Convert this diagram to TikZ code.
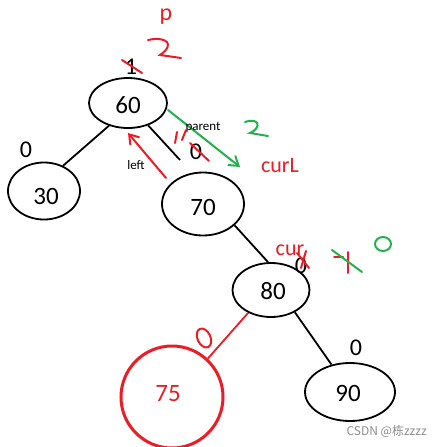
\documentclass[tikz,border=0pt]{standalone}
\usepackage{fontspec}
\setmainfont{Carlito}
\newfontfamily\cjk{Noto Sans CJK SC}
\usetikzlibrary{shapes.geometric,arrows.meta}
\definecolor{penred}{RGB}{236,28,36}
\definecolor{pengreen}{RGB}{34,177,76}
\begin{document}
\begin{tikzpicture}[x=1pt,y=-1pt,
  treenode/.style={draw,ellipse,line width=1.8pt,inner sep=0pt},
  edge/.style={line width=1.8pt},
  rededge/.style={line width=1.8pt,draw=penred},
  redink/.style={line width=2pt,draw=penred,line cap=round},
  greenink/.style={line width=2pt,draw=pengreen,line cap=round},
  num/.style={font=\fontsize{25}{25}\selectfont,inner sep=0pt},
  bf/.style={font=\fontsize{24}{24}\selectfont,inner sep=0pt},
  rednote/.style={font=\fontsize{22}{22}\selectfont,text=penred,inner sep=0pt},
  smalllab/.style={font=\fontsize{13}{13}\selectfont,inner sep=0pt}]
\useasboundingbox (0,0) rectangle (438,447);
\fill[white] (0,0) rectangle (438,447);
% nodes
\node[treenode,minimum width=78,minimum height=50] (n60) at (128,103) {};
\node[treenode,minimum width=72,minimum height=57] (n30) at (44,191) {};
\node[treenode,minimum width=82,minimum height=63] (n70) at (203,204) {};
\node[treenode,minimum width=77,minimum height=54] (n80) at (271,290) {};
\node[draw=penred,circle,line width=3pt,minimum size=102,inner sep=0pt] (n75) at (172,397) {};
\node[treenode,minimum width=90,minimum height=58] (n90) at (350,392) {};
% numbers
\node[num] (t60) at (128,105) {60};
\node[num] (t30) at (46,196) {30};
\node[num] (t70) at (203,207) {70};
\node[num] (t80) at (273,291) {80};
\node[num,text=penred] (t75) at (168,394) {75};
\node[num] (t90) at (348,393) {90};
% edges
\coordinate (e70end) at (180,160);
\draw[edge] (n60.230) -- (n30.53);
\draw[edge] (n60.312) -- (e70end);
\draw[edge] (n70.326) -- (n80.96);
\draw[edge] (n80.317) -- (n90.124);
\draw[rededge] (n80.225) -- (n75.47);
% left arrow (red)
\coordinate (lftail) at (166,178);
\coordinate (lftip) at (128,133);
\draw[redink,-{Straight Barb[length=9pt,width=12pt]}] (lftail) -- (lftip);
\node[smalllab] (lleft) at (136,165) {left};
% parent arrow (green)
\coordinate (pastart) at (168,110);
\coordinate (paend) at (240,167);
\draw[greenink,-{Straight Barb[length=9pt,width=12pt]}] (pastart) -- (paend);
\node[smalllab] (lparent) at (203,127) {parent};
% balance factors
\node[bf] (b60) at (131,67) {1};
\draw[redink] (122,60) -- (142,73);
\node[bf] (b70) at (196,152) {0};
\draw[redink] (190,143) -- (209,161);
\draw[redink] (177,132) -- (175,143);
\draw[redink] (182,140) -- (186,130);
\node[bf] (b30) at (26,150) {0};
\node[bf] (b80) at (301,266) {0};
\draw[redink] (297,253) -- (309,268);
\draw[redink] (306,251) -- (301,268);
\node[bf] (b90) at (356,348) {0};
% red notes
\node[rednote,font=\fontsize{24}{24}\selectfont] (lp) at (166,17) {p};
\draw[redink] (148,40) .. controls (166,36) and (176,44) .. (160,55) -- (181,58);
\node[rednote] (lcurL) at (280,166) {curL};
\node[rednote] (lcur) at (290,250) {cur};
\draw[redink] (334,257) -- (343,257);
\draw[redink] (348,252) -- (348,273);
\draw[greenink] (332,250) -- (362,272);
\draw[greenink] (383,244) ellipse (8 and 7);
\draw[greenink] (245,122) .. controls (258,117) and (263,127) .. (250,133) -- (268,136);
\draw[redink,rotate around={25:(204,338)}] (204,338) ellipse (6.5 and 10);
% watermark
\node[font=\cjk\fontsize{12}{12}\selectfont,text=black!45,inner sep=0pt,anchor=east] (wm) at (427,431) {CSDN @栋zzzz};
\end{tikzpicture}
\end{document}
